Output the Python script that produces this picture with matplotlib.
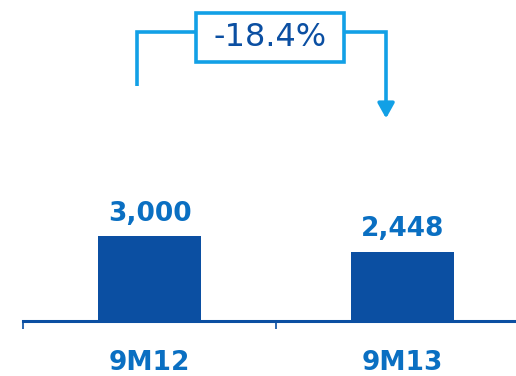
import matplotlib.pyplot as plt
from matplotlib.patches import Rectangle

categories = ["9M12", "9M13"]
values = [3000, 2448]
change_label = "-18.4%"

bar_color = "#0b4fa2"
label_color = "#0a6fc2"
bracket_color = "#12a0e6"

fig = plt.figure(figsize=(5.16, 3.76), dpi=100)
ax = fig.add_axes((23 / 516, 55 / 376, 506 / 516, 321 / 376))

x = list(range(len(categories)))
ax.bar(x, values, width=0.41, color=bar_color, zorder=2)

for xi, v in zip(x, values):
    ax.annotate(f"{v:,}", (xi, v), xytext=(0, 11), textcoords="offset points",
                ha="center", va="baseline", fontsize=19, fontweight="bold",
                color=label_color)

ax.set_xlim(-0.5, 1.5)
ax.set_ylim(0, 11330)

# axis: only the baseline with small separators between categories
for side in ("top", "right", "left"):
    ax.spines[side].set_visible(False)
ax.spines["bottom"].set_color(bar_color)
ax.spines["bottom"].set_linewidth(2.2)
ax.set_yticks([])
ax.set_xticks(x)
ax.set_xticklabels(categories, fontsize=19, fontweight="bold", color=label_color)
ax.tick_params(axis="x", which="major", length=0, pad=21)
ax.set_xticks([-0.5, 0.5, 1.5], minor=True)
ax.tick_params(axis="x", which="minor", length=6, width=1.2, color=bar_color,
               direction="out")

# change bracket from first to second period
x0, x1 = -0.05, 0.935
y_top = 10200
y_start = 8300
y_tip = 7150
box_l, box_r = 0.185, 0.77
box_b, box_t = 9140, 10870
lw = 2.6
ax.plot([x0, x0, box_l], [y_start, y_top, y_top], color=bracket_color, lw=lw,
        solid_capstyle="butt", solid_joinstyle="miter", clip_on=False)
ax.plot([box_r, x1, x1], [y_top, y_top, y_tip + 400], color=bracket_color, lw=lw,
        solid_capstyle="butt", solid_joinstyle="miter", clip_on=False)
ax.annotate("", xy=(x1, y_tip), xytext=(x1, y_tip + 550),
            arrowprops=dict(arrowstyle="-|>,head_length=0.9,head_width=0.5",
                            color=bracket_color, lw=lw, shrinkA=0, shrinkB=0))
ax.add_patch(Rectangle((box_l, box_b), box_r - box_l, box_t - box_b,
                       facecolor="white", edgecolor=bracket_color, lw=lw,
                       clip_on=False, zorder=3))
ax.text((box_l + box_r) / 2, (box_b + box_t) / 2, change_label, ha="center",
        va="center", fontsize=23, color=bar_color, zorder=4)

fig.savefig("out.png", dpi=100)
